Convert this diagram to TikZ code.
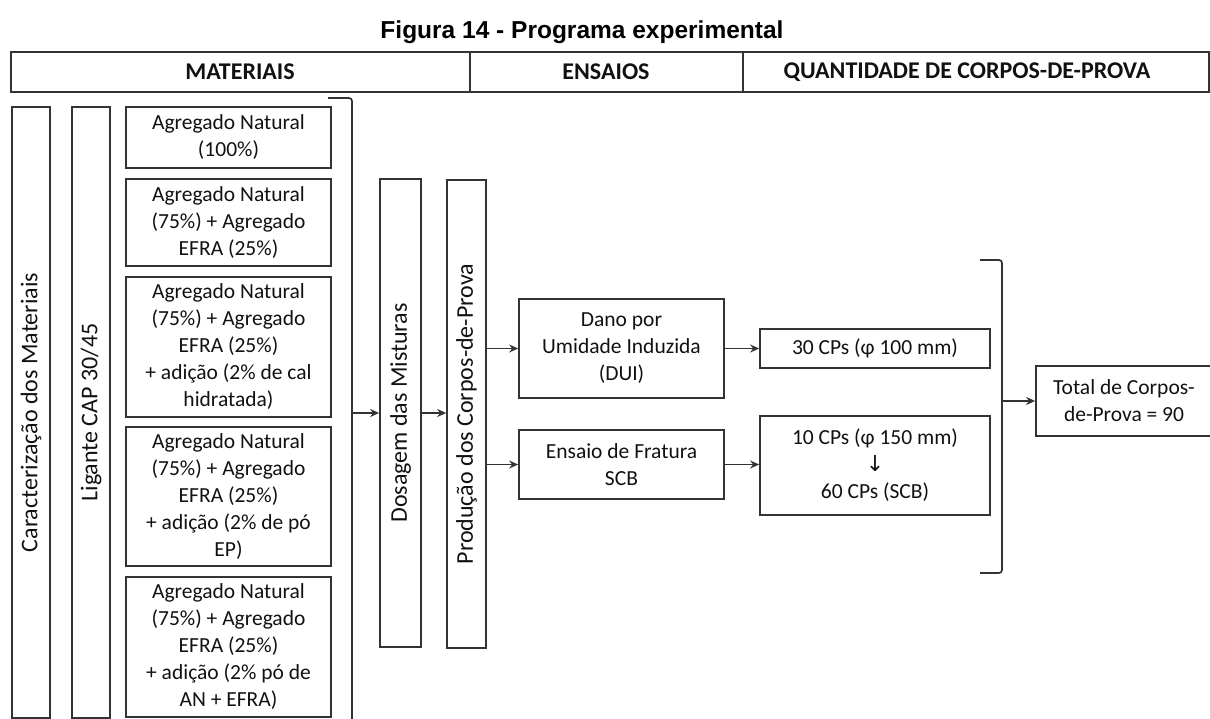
\documentclass[tikz,border=0pt]{standalone}
\usepackage{fontspec}
\setmainfont{Carlito}
\newfontfamily\arialf{Liberation Sans}
\newfontfamily\dejavu{DejaVu Sans}
\usetikzlibrary{arrows.meta}
\definecolor{linec}{HTML}{333333}
\definecolor{textc}{HTML}{111111}
\begin{document}
\begin{tikzpicture}[x=1pt,y=-1pt,
  box/.style={draw=linec, line width=1.7pt, inner sep=0pt, align=center, text=textc,
    font=\fontsize{21.5}{27}\selectfont},
  vbox/.style={box, font=\fontsize{24}{27}\selectfont},
  hdrtext/.style={inner sep=0pt, text=textc, font=\fontsize{24}{27}\selectfont\bfseries},
  arr/.style={draw=linec, line width=1.7pt, -{Stealth[length=9pt,width=8pt]}},
  brk/.style={draw=linec, line width=1.7pt, rounded corners=3pt}]
\useasboundingbox (0,0) rectangle (1210,719);
% title
\node[inner sep=0pt, font=\arialf\bfseries\fontsize{24.5}{28}\selectfont] (title) at (582,32) {Figura 14 - Programa experimental};
% header
\draw[linec, line width=1.7pt] (11,52) rectangle (1209,92);
\draw[linec, line width=1.7pt] (470,52) -- (470,92) (743,52) -- (743,92);
\node[hdrtext] (hmat) at (240,72) {MATERIAIS};
\node[hdrtext] (hens) at (606,72) {ENSAIOS};
\node[hdrtext] (hqtd) at (967,72) {QUANTIDADE DE CORPOS-DE-PROVA};
% vertical boxes
\node[vbox, minimum width=38pt, minimum height=611pt] (car) at (31,412.5) {\rotatebox{90}{Caracterização dos Materiais}};
\node[vbox, minimum width=38pt, minimum height=611pt] (lig) at (91,412.5) {\rotatebox{90}{Ligante CAP 30/45}};
% material boxes
\node[box, minimum width=205pt, minimum height=61pt] (m1) at (228.5,137.5) {Agregado Natural\\(100\%)};
\node[box, minimum width=205pt, minimum height=87pt] (m2) at (228.5,222.5) {Agregado Natural\\(75\%) + Agregado\\EFRA (25\%)};
\node[box, minimum width=205pt, minimum height=140pt] (m3) at (228.5,347) {Agregado Natural\\(75\%) + Agregado\\EFRA (25\%)\\+ adição (2\% de cal\\hidratada)};
\node[box, minimum width=205pt, minimum height=139pt] (m4) at (228.5,496.5) {Agregado Natural\\(75\%) + Agregado\\EFRA (25\%)\\+ adição (2\% de pó\\EP)};
\node[box, minimum width=205pt, minimum height=140pt] (m5) at (228.5,647) {Agregado Natural\\(75\%) + Agregado\\EFRA (25\%)\\+ adição (2\% pó de\\AN + EFRA)};
% bracket left
\draw[brk] (328,98) -- (352,98) -- (352,725);
\coordinate (b1) at (352,413);
% process boxes
\node[vbox, minimum width=41pt, minimum height=468pt] (dos) at (400.5,413) {\rotatebox{90}{Dosagem das Misturas}};
\node[vbox, minimum width=39pt, minimum height=468pt] (prod) at (466.5,414) {\rotatebox{90}{Produção dos Corpos-de-Prova}};
\node[box, minimum width=205pt, minimum height=99pt] (dano) at (621.5,348.5) {Dano por\\Umidade Induzida\\(DUI)};
\node[box, minimum width=205pt, minimum height=69pt] (frat) at (621.5,464.5) {Ensaio de Fratura\\SCB};
\node[box, minimum width=230pt, minimum height=39pt] (cp30) at (875,348.5) {30 CPs (φ 100 mm)};
\node[box, minimum width=230pt, minimum height=99pt] (cp10) at (875,465.5) {10 CPs (φ 150 mm)\\{\dejavu\fontsize{22}{27}\selectfont ↓}\\60 CPs (SCB)};
\node[box, minimum width=176pt, minimum height=70pt] (total) at (1124,401) {Total de Corpos-\\de-Prova = 90};
% right bracket
\draw[brk] (980,260) -- (1002,260) -- (1002,573) -- (980,573);
\coordinate (b2) at (1002,401);
% arrows
\draw[arr] (b1) -- (dos.west);
\draw[arr] (dos.east) -- (prod.west |- dos.east);
\draw[arr] (prod.east |- dano.west) -- (dano.west);
\draw[arr] (prod.east |- frat.west) -- (frat.west);
\draw[arr] (dano.east) -- (cp30.west);
\draw[arr] (frat.east) -- (cp10.west |- frat.east);
\draw[arr] (b2) -- (total.west);
\end{tikzpicture}
\end{document}
